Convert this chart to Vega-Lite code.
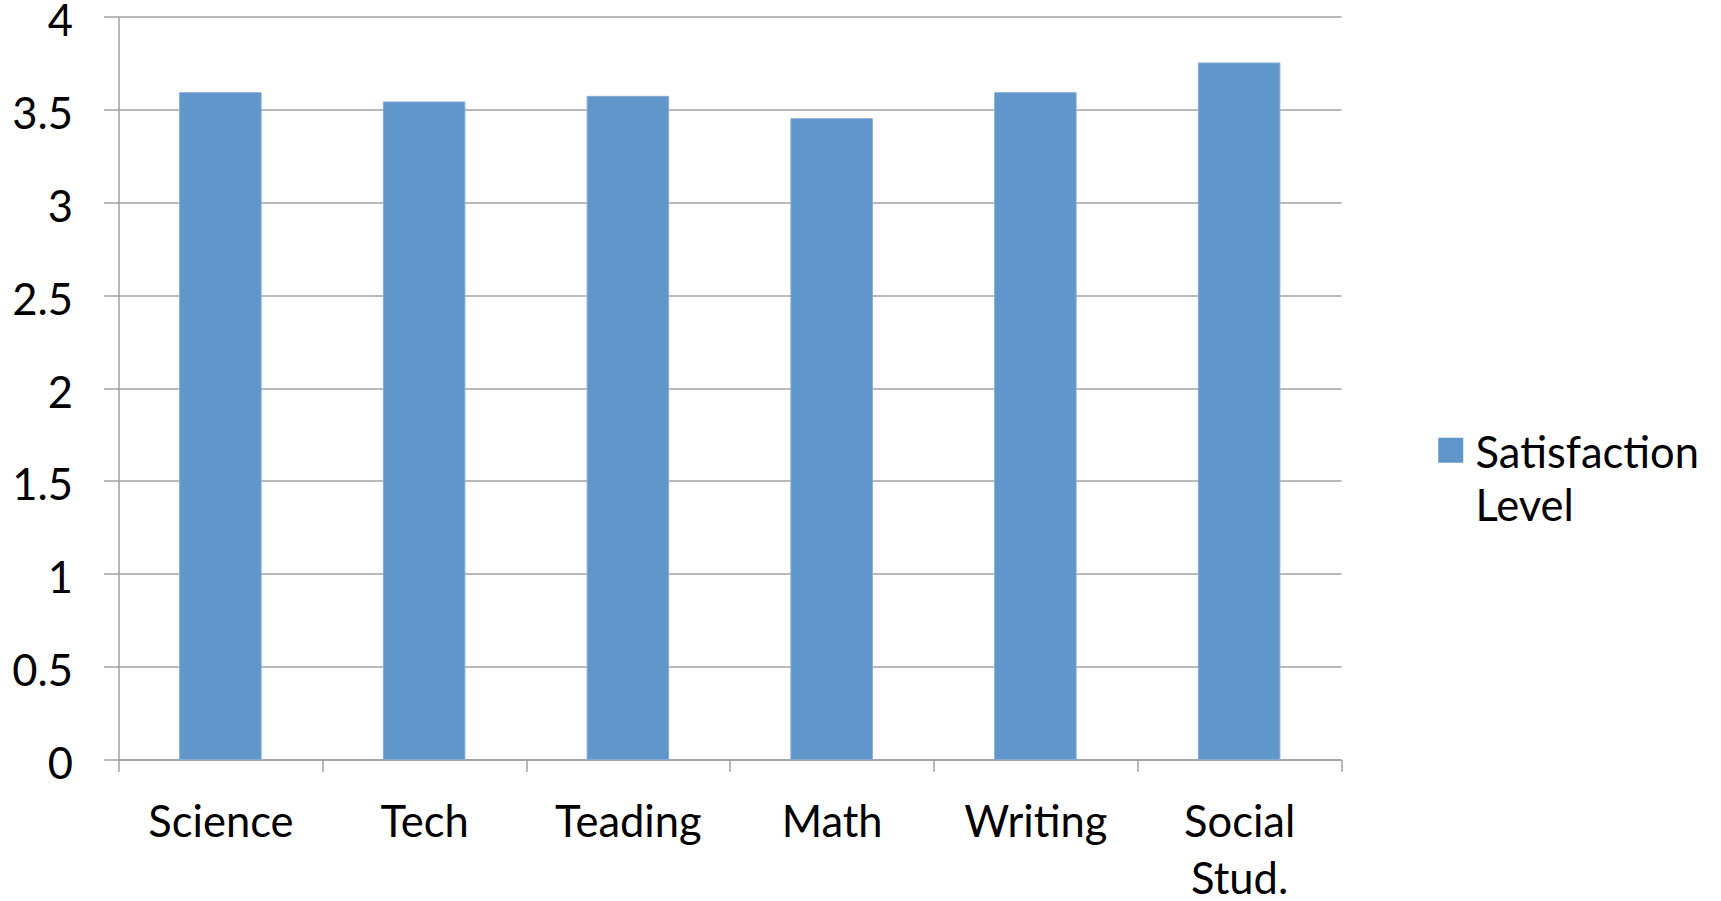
{
  "$schema": "https://vega.github.io/schema/vega-lite/v6.json",
  "width": 1222.5,
  "height": 743,
  "autosize": {"type": "none"},
  "padding": {"left": 118.5, "top": 16.5, "right": 379.5, "bottom": 141.5},
  "background": "white",
  "data": {
    "values": [
      {"subject": "Science", "value": 3.59, "series": "Satisfaction Level"},
      {"subject": "Tech", "value": 3.54, "series": "Satisfaction Level"},
      {"subject": "Teading", "value": 3.57, "series": "Satisfaction Level"},
      {"subject": "Math", "value": 3.45, "series": "Satisfaction Level"},
      {"subject": "Writing", "value": 3.59, "series": "Satisfaction Level"},
      {"subject": "Social Stud.", "value": 3.75, "series": "Satisfaction Level"}
    ]
  },
  "mark": {"type": "bar", "stroke": "#86ACD6", "strokeWidth": 1, "width": {"band": 0.4}},
  "encoding": {
    "x": {
      "field": "subject",
      "type": "nominal",
      "sort": null,
      "scale": {"paddingInner": 0, "paddingOuter": 0},
      "axis": {
        "title": null,
        "labelAngle": 0,
        "tickBand": "extent",
        "tickSize": 12,
        "tickColor": "#A0A0A0",
        "tickWidth": 1.5,
        "domainColor": "#A0A0A0",
        "domainWidth": 1.5,
        "labelFont": "Lato",
        "labelFontSize": 43.5,
        "labelColor": "#000000",
        "labelPadding": 31,
        "labelBaseline": "top",
        "labelLineHeight": 57,
        "labelExpr": "datum.value == 'Social Stud.' ? ['Social', 'Stud.'] : datum.value",
        "grid": false
      }
    },
    "y": {
      "field": "value",
      "type": "quantitative",
      "scale": {"domain": [0, 4], "nice": false},
      "axis": {
        "title": null,
        "values": [0, 0.5, 1, 1.5, 2, 2.5, 3, 3.5, 4],
        "format": "~g",
        "grid": true,
        "gridColor": "#A0A0A0",
        "gridWidth": 1.5,
        "tickSize": 15,
        "tickColor": "#A0A0A0",
        "tickWidth": 1.5,
        "domainColor": "#A0A0A0",
        "domainWidth": 1.5,
        "labelFont": "Lato",
        "labelFontSize": 43.5,
        "labelColor": "#000000",
        "labelPadding": 31,
        "labelBaseline": "middle",
        "labelOffset": 6
      }
    },
    "color": {
      "field": "series",
      "type": "nominal",
      "scale": {"range": ["#6096C9"]},
      "legend": {
        "title": null,
        "orient": "none",
        "legendX": 1310.5,
        "legendY": 416.5,
        "symbolType": "M-1,-1.36H1V0.64H-1Z",
        "symbolSize": 625,
        "symbolStrokeWidth": 0,
        "labelFont": "Lato",
        "labelFontSize": 43.5,
        "labelColor": "#000000",
        "labelOffset": 3,
        "labelLimit": 400,
        "labelExpr": "['Satisfaction', 'Level']"
      }
    }
  },
  "config": {
    "view": {"stroke": null},
    "style": {"guide-label": {"lineHeight": 53}}
  }
}
